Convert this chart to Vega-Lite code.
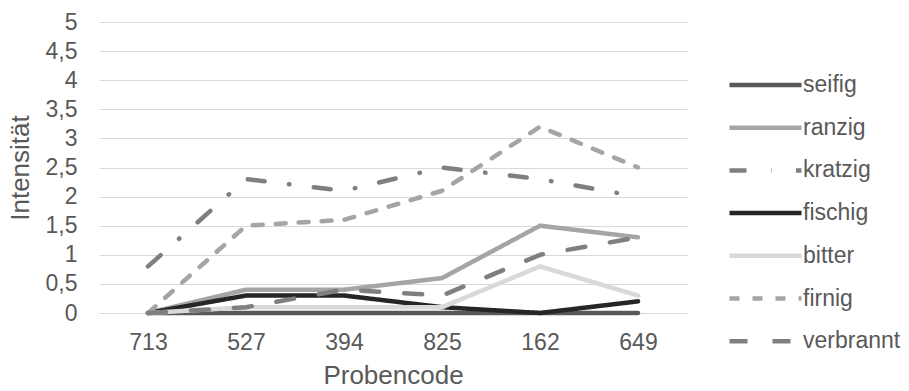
{
  "$schema": "https://vega.github.io/schema/vega-lite/v6.json",
  "autosize": "none",
  "width": 588,
  "height": 291,
  "padding": {"left": 99, "top": 22, "right": 222, "bottom": 78},
  "background": "white",
  "config": {
    "font": "Liberation Sans",
    "view": {"stroke": null},
    "axis": {"labelColor": "#595959", "titleColor": "#595959", "titleFontWeight": "normal"},
    "legend": {"labelColor": "#595959"}
  },
  "data": {
    "values": [
      {"code": "713", "s": "seifig", "v": 0}, {"code": "527", "s": "seifig", "v": 0}, {"code": "394", "s": "seifig", "v": 0}, {"code": "825", "s": "seifig", "v": 0}, {"code": "162", "s": "seifig", "v": 0}, {"code": "649", "s": "seifig", "v": 0},
      {"code": "713", "s": "ranzig", "v": 0}, {"code": "527", "s": "ranzig", "v": 0.4}, {"code": "394", "s": "ranzig", "v": 0.4}, {"code": "825", "s": "ranzig", "v": 0.6}, {"code": "162", "s": "ranzig", "v": 1.5}, {"code": "649", "s": "ranzig", "v": 1.3},
      {"code": "713", "s": "kratzig", "v": 0.8}, {"code": "527", "s": "kratzig", "v": 2.3}, {"code": "394", "s": "kratzig", "v": 2.1}, {"code": "825", "s": "kratzig", "v": 2.5}, {"code": "162", "s": "kratzig", "v": 2.3}, {"code": "649", "s": "kratzig", "v": 2.0},
      {"code": "713", "s": "fischig", "v": 0}, {"code": "527", "s": "fischig", "v": 0.3}, {"code": "394", "s": "fischig", "v": 0.3}, {"code": "825", "s": "fischig", "v": 0.1}, {"code": "162", "s": "fischig", "v": 0}, {"code": "649", "s": "fischig", "v": 0.2},
      {"code": "713", "s": "bitter", "v": 0}, {"code": "527", "s": "bitter", "v": 0.1}, {"code": "394", "s": "bitter", "v": 0.1}, {"code": "825", "s": "bitter", "v": 0.1}, {"code": "162", "s": "bitter", "v": 0.8}, {"code": "649", "s": "bitter", "v": 0.3},
      {"code": "713", "s": "firnig", "v": 0}, {"code": "527", "s": "firnig", "v": 1.5}, {"code": "394", "s": "firnig", "v": 1.6}, {"code": "825", "s": "firnig", "v": 2.1}, {"code": "162", "s": "firnig", "v": 3.2}, {"code": "649", "s": "firnig", "v": 2.5},
      {"code": "713", "s": "verbrannt", "v": 0}, {"code": "527", "s": "verbrannt", "v": 0.1}, {"code": "394", "s": "verbrannt", "v": 0.4}, {"code": "825", "s": "verbrannt", "v": 0.3}, {"code": "162", "s": "verbrannt", "v": 1.0}, {"code": "649", "s": "verbrannt", "v": 1.3}
    ]
  },
  "mark": {"type": "line", "strokeWidth": 4.5, "strokeCap": "round", "strokeJoin": "round"},
  "encoding": {
    "x": {
      "field": "code", "type": "ordinal",
      "sort": ["713", "527", "394", "825", "162", "649"],
      "scale": {"type": "point", "padding": 0.5},
      "axis": {
        "title": "Probencode", "titleFontSize": 26, "titlePadding": 8,
        "labelAngle": 0, "labelFontSize": 23, "labelPadding": 18,
        "ticks": false, "domain": true, "domainColor": "#d9d9d9", "domainWidth": 1, "grid": false
      }
    },
    "y": {
      "field": "v", "type": "quantitative",
      "scale": {"domain": [0, 5], "nice": false},
      "axis": {
        "title": "Intensität", "titleFontSize": 26, "titlePadding": 12,
        "values": [0, 0.5, 1, 1.5, 2, 2.5, 3, 3.5, 4, 4.5, 5],
        "labelExpr": "replace(format(datum.value, '.1~f'), '.', ',')",
        "labelFontSize": 23, "labelPadding": 22,
        "ticks": false, "domain": false,
        "grid": true, "gridColor": "#d9d9d9", "gridWidth": 1
      }
    },
    "color": {
      "field": "s", "type": "nominal",
      "scale": {
        "domain": ["seifig", "ranzig", "kratzig", "fischig", "bitter", "firnig", "verbrannt"],
        "range": ["#595959", "#a5a5a5", "#7f7f7f", "#262626", "#d9d9d9", "#a5a5a5", "#7f7f7f"]
      },
      "legend": {
        "title": null, "orient": "none", "legendX": 628, "legendY": 51,
        "symbolType": "stroke", "symbolSize": 5184, "symbolStrokeWidth": 4.5,
        "labelFontSize": 23, "labelOffset": -1, "clipHeight": 24, "rowPadding": 18.7
      }
    },
    "strokeDash": {
      "field": "s", "type": "nominal",
      "scale": {
        "domain": ["seifig", "ranzig", "kratzig", "fischig", "bitter", "firnig", "verbrannt"],
        "range": [[1, 0], [1, 0], [17, 24.5, 0.5, 24.5], [1, 0], [1, 0], [10, 13], [18, 25]]
      },
      "legend": {
        "title": null, "orient": "none", "legendX": 628, "legendY": 51,
        "symbolType": "stroke", "symbolSize": 5184, "symbolStrokeWidth": 4.5,
        "labelFontSize": 23, "labelOffset": -1, "clipHeight": 24, "rowPadding": 18.7
      }
    }
  }
}
